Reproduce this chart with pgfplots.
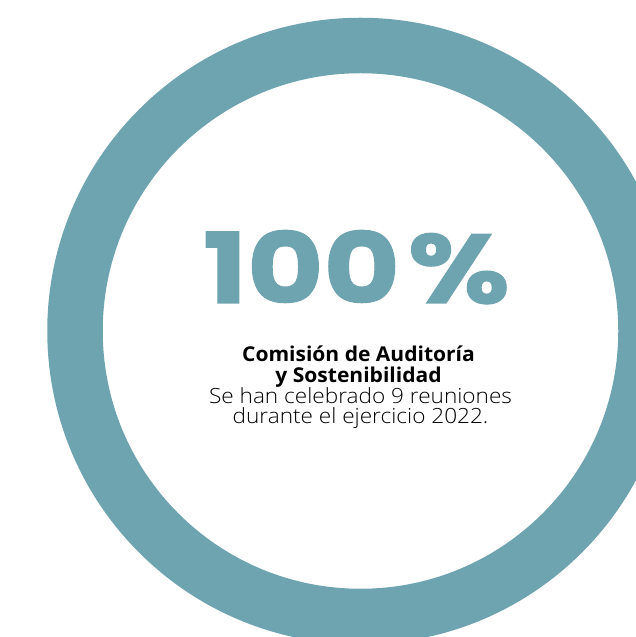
\documentclass[border=0pt]{standalone}
\usepackage{fontspec}
\setmainfont{Open Sans}[BoldFeatures={FakeStretch=1.03}]
\newfontfamily\lightfont{Open Sans Light}[FakeStretch=1.08]
\newfontfamily\bigfont{Poppins}[BoldFeatures={FakeStretch=1.2, FakeBold=1.2}]
\usepackage{pgfplots}
\pgfplotsset{compat=1.18}
\definecolor{ring}{RGB}{110,163,176}

\begin{document}
\begin{tikzpicture}
\useasboundingbox (0,0) rectangle (636bp,637bp);
\begin{axis}[
  at={(0,0)}, anchor=south west,
  scale only axis,
  width=636bp, height=637bp,
  xmin=0, xmax=636, ymin=0, ymax=637,
  hide axis,
  clip=true,
  clip marker paths=true,
]
% share of meetings attended: 100 % -> full ring
\addplot[only marks, mark=o, mark size=285.5bp,
  mark options={draw=ring, line width=55.5bp}]
  coordinates {(360.5,306)};

\node[anchor=base, text=ring] at (axis cs:356.5,334)
  {\bigfont\bfseries\fontsize{98}{98}\selectfont 100\hspace{8bp}\%};
\node[anchor=base] at (axis cs:358.5,275)
  {\fontsize{20.5}{21}\selectfont\bfseries Comisión de Auditoría};
\node[anchor=base] at (axis cs:358.5,254)
  {\fontsize{20.5}{21}\selectfont\bfseries y Sostenibilidad};
\node[anchor=base] at (axis cs:360.5,233)
  {\lightfont\fontsize{21}{21}\selectfont Se han celebrado 9 reuniones};
\node[anchor=base] at (axis cs:360.5,213)
  {\lightfont\fontsize{21}{21}\selectfont durante el ejercicio 2022.};
\end{axis}
\end{tikzpicture}
\end{document}
